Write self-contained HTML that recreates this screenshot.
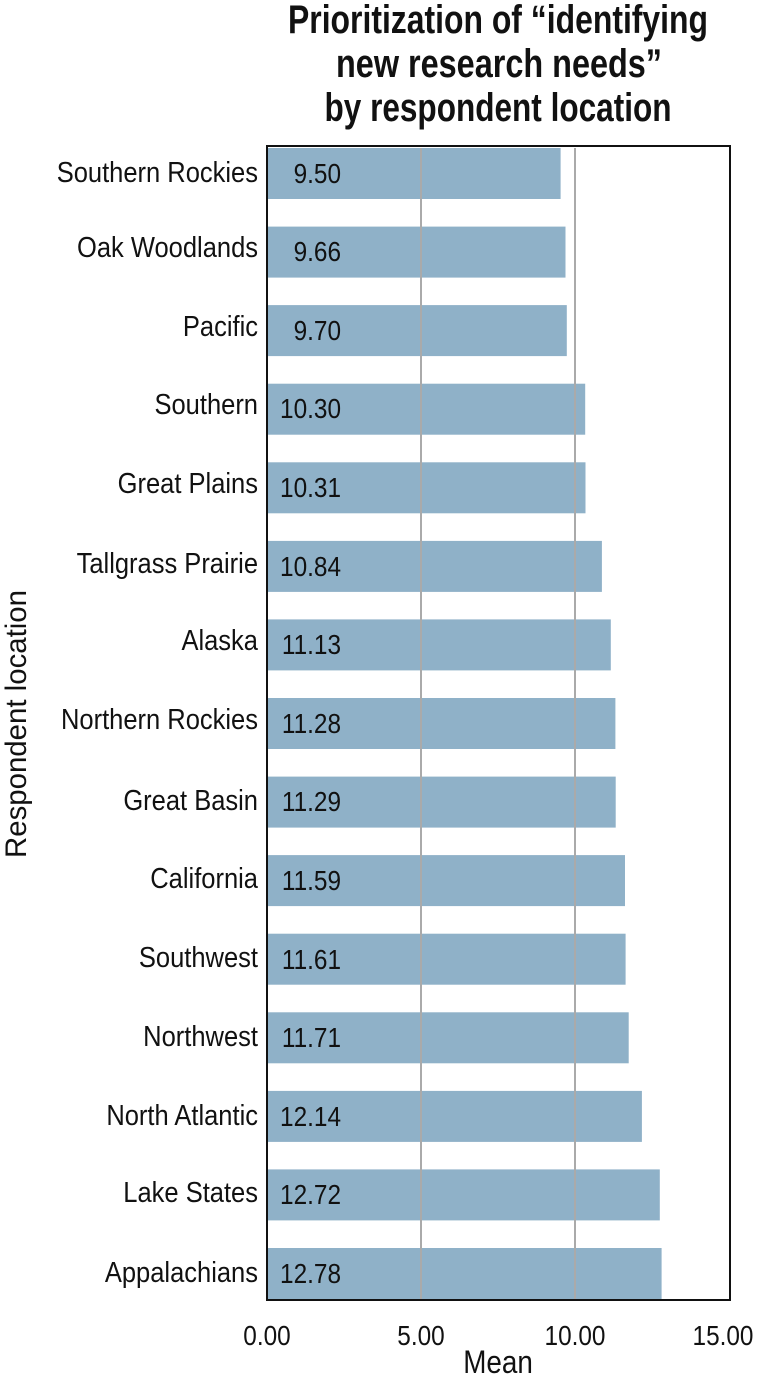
<!DOCTYPE html>
<html><head><meta charset="utf-8"><style>
html,body{margin:0;padding:0;background:#fff;}
svg{display:block;}
text{font-family:"Liberation Sans Narrow","Liberation Sans",sans-serif;fill:#111;}
</style></head><body>
<svg width="759" height="1382" viewBox="0 0 759 1382" xmlns="http://www.w3.org/2000/svg">
<g font-weight="bold" font-size="40" text-anchor="middle">
<text x="498" y="33" textLength="420" lengthAdjust="spacingAndGlyphs">Prioritization of “identifying</text>
<text x="499" y="77" textLength="326" lengthAdjust="spacingAndGlyphs">new research needs”</text>
<text x="498" y="121" textLength="347" lengthAdjust="spacingAndGlyphs">by respondent location</text>
</g>
<g fill="#8fb1c8">
<rect x="268" y="148" width="292.6" height="51"/>
<rect x="268" y="226.6" width="297.5" height="51"/>
<rect x="268" y="305.1" width="298.8" height="51"/>
<rect x="268" y="383.7" width="317.2" height="51"/>
<rect x="268" y="462.3" width="317.5" height="51"/>
<rect x="268" y="540.9" width="333.9" height="51"/>
<rect x="268" y="619.4" width="342.8" height="51"/>
<rect x="268" y="698" width="347.4" height="51"/>
<rect x="268" y="776.6" width="347.7" height="51"/>
<rect x="268" y="855.1" width="357" height="51"/>
<rect x="268" y="933.7" width="357.6" height="51"/>
<rect x="268" y="1012.3" width="360.7" height="51"/>
<rect x="268" y="1090.9" width="373.9" height="51"/>
<rect x="268" y="1169.4" width="391.8" height="51"/>
<rect x="268" y="1248" width="393.6" height="51"/>
</g>
<g stroke="#aaa" stroke-width="2">
<line x1="421" y1="148" x2="421" y2="1299"/>
<line x1="575" y1="148" x2="575" y2="1299"/>
</g>
<rect x="267" y="146" width="463" height="1154" fill="none" stroke="#111" stroke-width="2"/>
<g font-size="29" text-anchor="end" transform="translate(258,0) scale(0.88,1)">
<text x="0" y="182">Southern Rockies</text>
<text x="0" y="257">Oak Woodlands</text>
<text x="0" y="336">Pacific</text>
<text x="0" y="414">Southern</text>
<text x="0" y="493">Great Plains</text>
<text x="0" y="573">Tallgrass Prairie</text>
<text x="0" y="650">Alaska</text>
<text x="0" y="729">Northern Rockies</text>
<text x="0" y="810">Great Basin</text>
<text x="0" y="888">California</text>
<text x="0" y="967">Southwest</text>
<text x="0" y="1046">Northwest</text>
<text x="0" y="1125">North Atlantic</text>
<text x="0" y="1202">Lake States</text>
<text x="0" y="1282">Appalachians</text>
</g>
<g font-size="28" text-anchor="end" transform="translate(341,0) scale(0.87,1)">
<text x="0" y="183">9.50</text>
<text x="0" y="261">9.66</text>
<text x="0" y="340">9.70</text>
<text x="0" y="418">10.30</text>
<text x="0" y="497">10.31</text>
<text x="0" y="576">10.84</text>
<text x="0" y="654">11.13</text>
<text x="0" y="733">11.28</text>
<text x="0" y="811">11.29</text>
<text x="0" y="890">11.59</text>
<text x="0" y="969">11.61</text>
<text x="0" y="1047">11.71</text>
<text x="0" y="1126">12.14</text>
<text x="0" y="1204">12.72</text>
<text x="0" y="1283">12.78</text>
</g>
<g font-size="28" text-anchor="middle">
<text x="0" y="1345" transform="translate(267,0) scale(0.87,1)">0.00</text>
<text x="0" y="1345" transform="translate(421,0) scale(0.87,1)">5.00</text>
<text x="0" y="1345" transform="translate(575,0) scale(0.87,1)">10.00</text>
<text x="0" y="1345" transform="translate(723,0) scale(0.87,1)">15.00</text>
</g>
<text x="0" y="1373" font-size="32" text-anchor="middle" transform="translate(498,0) scale(0.87,1)">Mean</text>
<text transform="translate(26,724) rotate(-90)" font-size="30" text-anchor="middle" textLength="268" lengthAdjust="spacingAndGlyphs">Respondent location</text>
</svg>
</body></html>
